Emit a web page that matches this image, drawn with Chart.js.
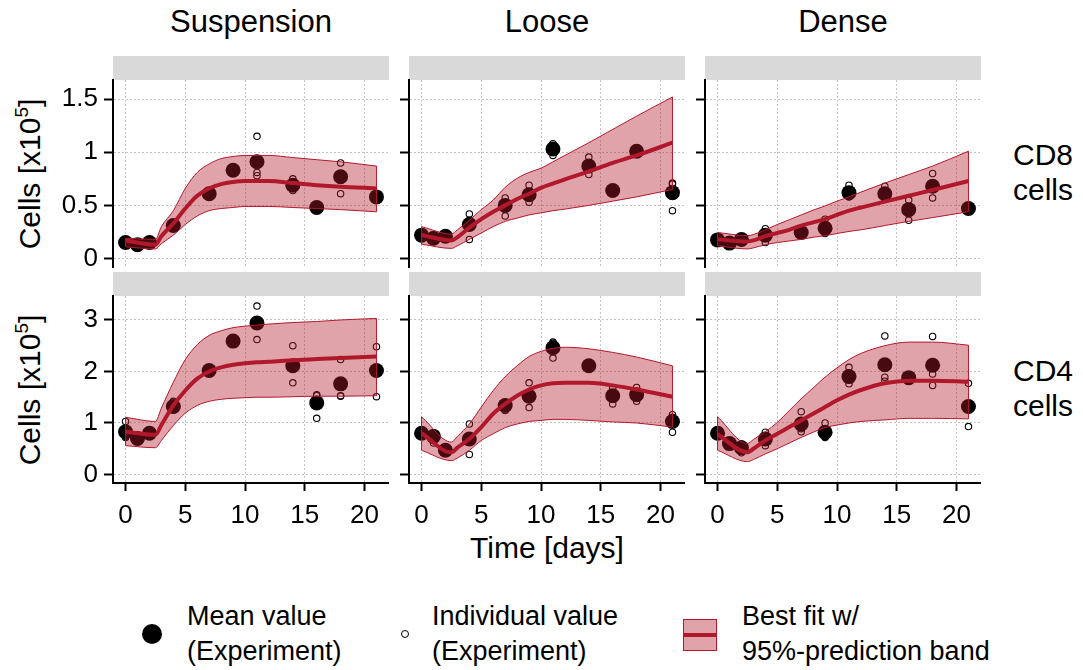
<!DOCTYPE html>
<html>
<head>
<meta charset="utf-8">
<script src="https://cdn.jsdelivr.net/npm/chart.js@4.4.0/dist/chart.umd.min.js"></script>
<style>
  html, body { margin: 0; padding: 0; background: #fff; }
  #fig { position: relative; width: 1083px; height: 670px; overflow: hidden;
         font-family: "Liberation Sans", Arial, Helvetica, sans-serif; color: #000; }
  #fig canvas { position: absolute; }
  .strip { position: absolute; background: #d9d9d9; }
  .coltitle { position: absolute; text-align: center; font-size: 31px; line-height: 30px; white-space: nowrap; }
  .rowlabel { position: absolute; font-size: 30px; line-height: 35px; white-space: nowrap; }
  .ytitle { position: absolute; width: 240px; height: 36px; line-height: 36px; text-align: center;
            font-size: 30px; white-space: nowrap; transform: rotate(-90deg); transform-origin: 50% 50%; }
  .ytitle sup { font-size: 19px; vertical-align: 0; position: relative; top: -12px; }
  .xtitle { position: absolute; width: 300px; text-align: center; font-size: 30px; line-height: 30px; }
  .legtext { position: absolute; font-size: 27px; line-height: 35px; white-space: nowrap; }
  .dot { position: absolute; border-radius: 50%; box-sizing: border-box; }
</style>
</head>
<body>
<div id="fig"></div>
<script>
// ---- time grid shared by every panel ----
const timePoints = [0, 1, 2, 4, 7, 9, 11, 14, 16, 18, 21];
const fitTimes   = [0, 2.5, 3, 4, 5, 6, 7, 8, 9, 10, 11, 12, 14, 16, 18, 21];

// ---- axis ticks ----
const xTickValues = [0, 5, 10, 15, 20];
const yTicksCD8 = [0, 0.5, 1, 1.5];
const yTicksCD4 = [0, 1, 2, 3];

// ---- facet labels ----
const conditions = ['Suspension', 'Loose', 'Dense'];
const cellTypes = ['CD8', 'CD4'];

// ---- CD8, Suspension ----
const meanSuspensionCD8 = [0.15, 0.13, 0.15, 0.31, 0.61, 0.83, 0.91, 0.69, 0.48, 0.77, 0.58];
const indivSuspensionCD8 = [[0.15, 0.14, 0.16], [0.12, 0.13, 0.14], [0.15, 0.16, 0.14], [0.30, 0.31, 0.32],
  [0.60, 0.61, 0.62], [0.82, 0.83, 0.84], [1.15, 0.81, 0.78], [0.75, 0.68, 0.64], [0.48, 0.47, 0.49],
  [0.90, 0.80, 0.61], [0.58, 0.57, 0.59]];
const fitSuspensionCD8   = [0.17, 0.13, 0.21, 0.33, 0.47, 0.59, 0.66, 0.70, 0.72, 0.73, 0.73, 0.73, 0.71, 0.69, 0.675, 0.66];
const upperSuspensionCD8 = [0.19, 0.18, 0.30, 0.45, 0.66, 0.81, 0.89, 0.94, 0.96, 0.97, 0.97, 0.97, 0.95, 0.93, 0.91, 0.87];
const lowerSuspensionCD8 = [0.11, 0.09, 0.14, 0.22, 0.32, 0.40, 0.45, 0.47, 0.48, 0.49, 0.49, 0.49, 0.48, 0.47, 0.46, 0.44];

// ---- CD8, Loose ----
const meanLooseCD8 = [0.22, 0.19, 0.21, 0.32, 0.50, 0.60, 1.03, 0.87, 0.64, 1.01, 0.62];
const indivLooseCD8 = [[0.22, 0.21, 0.23], [0.18, 0.19, 0.20], [0.21, 0.20, 0.22], [0.42, 0.18, 0.36],
  [0.57, 0.40, 0.53], [0.69, 0.53, 0.58], [1.08, 1.04, 0.97], [0.955, 0.79, 0.86], [0.64, 0.63, 0.65],
  [1.01, 1.00, 1.02], [0.71, 0.45, 0.70]];
const fitLooseCD8   = [0.22, 0.17, 0.20, 0.29, 0.37, 0.44, 0.50, 0.56, 0.61, 0.665, 0.705, 0.745, 0.82, 0.90, 0.97, 1.09];
const upperLooseCD8 = [0.30, 0.23, 0.27, 0.36, 0.46, 0.55, 0.67, 0.755, 0.81, 0.85, 0.91, 0.97, 1.09, 1.215, 1.34, 1.52];
const lowerLooseCD8 = [0.135, 0.095, 0.12, 0.18, 0.24, 0.30, 0.35, 0.38, 0.41, 0.43, 0.45, 0.465, 0.50, 0.54, 0.58, 0.65];

// ---- CD8, Dense ----
const meanDenseCD8 = [0.175, 0.145, 0.18, 0.22, 0.245, 0.285, 0.62, 0.61, 0.46, 0.68, 0.47];
const indivDenseCD8 = [[0.17, 0.18, 0.175], [0.14, 0.15, 0.145], [0.18, 0.17, 0.19], [0.28, 0.15, 0.23],
  [0.24, 0.25, 0.245], [0.37, 0.25, 0.235], [0.69, 0.58, 0.59], [0.68, 0.58, 0.57], [0.55, 0.36, 0.47],
  [0.80, 0.57, 0.67], [0.47, 0.46, 0.48]];
const fitDenseCD8   = [0.18, 0.16, 0.17, 0.21, 0.24, 0.27, 0.31, 0.34, 0.37, 0.41, 0.45, 0.48, 0.535, 0.59, 0.645, 0.73];
const upperDenseCD8 = [0.245, 0.215, 0.225, 0.27, 0.32, 0.365, 0.41, 0.455, 0.495, 0.54, 0.58, 0.625, 0.71, 0.79, 0.87, 1.01];
const lowerDenseCD8 = [0.12, 0.09, 0.10, 0.13, 0.15, 0.165, 0.18, 0.20, 0.215, 0.235, 0.255, 0.27, 0.31, 0.35, 0.385, 0.44];

// ---- CD4, Suspension ----
const meanSuspensionCD4 = [0.83, 0.70, 0.80, 1.32, 2.02, 2.59, 2.94, 2.11, 1.39, 1.76, 2.02];
const indivSuspensionCD4 = [[1.03, 0.72, 0.74], [0.69, 0.70, 0.71], [0.80, 0.79, 0.81], [1.42, 1.25, 1.29],
  [2.02, 2.00, 2.04], [2.59, 2.58, 2.60], [3.27, 2.62, 2.93], [2.50, 1.78, 2.05], [1.55, 1.09, 1.53],
  [2.23, 1.52, 1.53], [2.48, 1.51, 2.07]];
const fitSuspensionCD4   = [0.83, 0.77, 0.96, 1.34, 1.63, 1.86, 2.00, 2.08, 2.13, 2.16, 2.18, 2.19, 2.22, 2.24, 2.26, 2.29];
const upperSuspensionCD4 = [1.11, 1.03, 1.29, 1.79, 2.23, 2.52, 2.70, 2.79, 2.85, 2.88, 2.90, 2.92, 2.95, 2.97, 3.00, 3.03];
const lowerSuspensionCD4 = [0.56, 0.52, 0.66, 0.95, 1.19, 1.34, 1.42, 1.46, 1.48, 1.49, 1.50, 1.50, 1.51, 1.52, 1.52, 1.53];

// ---- CD4, Loose ----
const meanLooseCD4 = [0.80, 0.74, 0.47, 0.69, 1.34, 1.52, 2.46, 2.11, 1.53, 1.55, 1.03];
const indivLooseCD4 = [[0.80, 0.79, 0.81], [0.61, 0.80, 0.81], [0.47, 0.46, 0.48], [0.98, 0.39, 0.70],
  [1.24, 1.40, 1.38], [1.78, 1.30, 1.48], [2.57, 2.26, 2.55], [2.11, 2.10, 2.12], [1.68, 1.37, 1.54],
  [1.69, 1.42, 1.54], [1.16, 0.82, 1.11]];
const fitLooseCD4   = [0.80, 0.43, 0.52, 0.69, 0.92, 1.18, 1.37, 1.53, 1.65, 1.73, 1.77, 1.78, 1.78, 1.73, 1.65, 1.51];
const upperLooseCD4 = [1.12, 0.63, 0.74, 0.98, 1.31, 1.63, 1.90, 2.11, 2.29, 2.39, 2.45, 2.47, 2.44, 2.37, 2.28, 2.11];
const lowerLooseCD4 = [0.47, 0.27, 0.32, 0.47, 0.66, 0.79, 0.91, 0.98, 1.03, 1.05, 1.07, 1.07, 1.05, 1.02, 1.00, 0.92];

// ---- CD4, Dense ----
const meanDenseCD4 = [0.80, 0.60, 0.52, 0.69, 0.98, 0.82, 1.90, 2.13, 1.88, 2.12, 1.32];
const indivDenseCD4 = [[0.80, 0.79, 0.81], [0.55, 0.60, 0.65], [0.42, 0.55, 0.59], [0.82, 0.56, 0.69],
  [1.22, 0.83, 0.89], [1.00, 0.74, 0.72], [2.08, 1.76, 1.86], [2.69, 1.89, 1.81], [1.88, 1.87, 1.89],
  [2.68, 1.95, 1.73], [1.77, 0.93, 1.26]];
const fitDenseCD4   = [0.78, 0.43, 0.50, 0.66, 0.79, 0.92, 1.05, 1.18, 1.31, 1.44, 1.55, 1.64, 1.77, 1.82, 1.82, 1.80];
const upperDenseCD4 = [1.12, 0.60, 0.68, 0.83, 1.01, 1.24, 1.47, 1.68, 1.89, 2.07, 2.23, 2.35, 2.50, 2.57, 2.57, 2.51];
const lowerDenseCD4 = [0.47, 0.25, 0.29, 0.40, 0.50, 0.61, 0.72, 0.82, 0.91, 0.96, 1.00, 1.03, 1.06, 1.09, 1.09, 1.08];

// ---- styling ----
const FONT = '"Liberation Sans", Arial, Helvetica, sans-serif';
const RED = 'rgb(178,24,43)';
const BAND = 'rgba(178,24,43,0.40)';
const GRID = '#c4c4c4';

// ---- facet geometry (pixels) ----
const colLeft = [113, 409, 705];
const rowTop = [80, 296];
const PANEL_W = 276, PANEL_H = 187;
const PAD_T = 30;                 // room for the top tick label
const X_AXIS_H = 50;              // bottom row x axis (ticks + labels)
const X_RANGE = [-1.05, 22.05];
const Y_RANGE = [[-0.08, 1.68], [-0.165, 3.465]];
const yTickSets = [yTicksCD8, yTicksCD4];

const panels = [
  { row: 0, col: 0, mean: meanSuspensionCD8, indiv: indivSuspensionCD8, fit: fitSuspensionCD8, upper: upperSuspensionCD8, lower: lowerSuspensionCD8 },
  { row: 0, col: 1, mean: meanLooseCD8, indiv: indivLooseCD8, fit: fitLooseCD8, upper: upperLooseCD8, lower: lowerLooseCD8 },
  { row: 0, col: 2, mean: meanDenseCD8, indiv: indivDenseCD8, fit: fitDenseCD8, upper: upperDenseCD8, lower: lowerDenseCD8 },
  { row: 1, col: 0, mean: meanSuspensionCD4, indiv: indivSuspensionCD4, fit: fitSuspensionCD4, upper: upperSuspensionCD4, lower: lowerSuspensionCD4 },
  { row: 1, col: 1, mean: meanLooseCD4, indiv: indivLooseCD4, fit: fitLooseCD4, upper: upperLooseCD4, lower: lowerLooseCD4 },
  { row: 1, col: 2, mean: meanDenseCD4, indiv: indivDenseCD4, fit: fitDenseCD4, upper: upperDenseCD4, lower: lowerDenseCD4 }
];

const fig = document.getElementById('fig');

function addDiv(cls, style, html) {
  const d = document.createElement('div');
  d.className = cls;
  Object.assign(d.style, style);
  d.innerHTML = html;
  fig.appendChild(d);
  return d;
}

// strips and facet titles
for (let r = 0; r < 2; r++) {
  for (let c = 0; c < 3; c++) {
    addDiv('strip', { left: colLeft[c] + 'px', top: (rowTop[r] - 24) + 'px', width: PANEL_W + 'px', height: '24px' }, '');
  }
}
conditions.forEach((name, c) => {
  addDiv('coltitle', { left: colLeft[c] + 'px', top: '7px', width: PANEL_W + 'px' }, name);
});
cellTypes.forEach((name, r) => {
  const cy = rowTop[r] + PANEL_H / 2;
  addDiv('rowlabel', { left: '1013px', top: (cy - 37) + 'px' }, name + '<br>cells');
  addDiv('ytitle', { left: (30 - 120) + 'px', top: (cy - 18) + 'px' }, 'Cells [x10<sup>5</sup>]');
});
addDiv('xtitle', { left: (colLeft[1] + PANEL_W / 2 - 150) + 'px', top: '533px' }, 'Time [days]');

// legend
addDiv('dot', { left: '142px', top: '624px', width: '20px', height: '20px', background: '#000' }, '');
addDiv('legtext', { left: '187px', top: '599px' }, 'Mean value<br>(Experiment)');
addDiv('dot', { left: '401px', top: '630px', width: '8px', height: '8px', border: '1.2px solid #000' }, '');
addDiv('legtext', { left: '432px', top: '599px' }, 'Individual value<br>(Experiment)');
addDiv('dot', { left: '683px', top: '619px', width: '34px', height: '32px', borderRadius: '0', background: BAND, border: '1px solid ' + RED }, '');
addDiv('dot', { left: '683px', top: '633px', width: '34px', height: '4px', borderRadius: '0', background: RED }, '');
addDiv('legtext', { left: '742px', top: '599px' }, 'Best fit w/<br>95%-prediction band');

Chart.defaults.font.family = FONT;
Chart.defaults.color = '#000';

function pts(xs, ys) { return xs.map((x, i) => ({ x: x, y: ys[i] })); }

function buildPanel(p) {
  const isBottom = p.row === 1;
  const showYLabels = p.col === 0;
  const axW = showYLabels ? 100 : 14;
  const canvas = document.createElement('canvas');
  const w = axW + PANEL_W;
  const h = PAD_T + PANEL_H + (isBottom ? X_AXIS_H : 30);
  canvas.width = w;
  canvas.height = h;
  canvas.style.left = (colLeft[p.col] - axW) + 'px';
  canvas.style.top = (rowTop[p.row] - PAD_T) + 'px';
  fig.appendChild(canvas);

  const indivPts = [];
  p.indiv.forEach((vals, i) => vals.forEach(v => indivPts.push({ x: timePoints[i], y: v })));
  const last = fitTimes.length - 1;

  const curve = { pointRadius: 0, fill: false, cubicInterpolationMode: 'monotone', borderColor: RED };

  new Chart(canvas, {
    type: 'line',
    data: {
      datasets: [
        Object.assign({ label: 'Best fit', data: pts(fitTimes, p.fit), borderWidth: 4, order: 0 }, curve),
        Object.assign({ label: 'lower', data: pts(fitTimes, p.lower), borderWidth: 1, order: 1 }, curve),
        Object.assign({}, curve, { label: 'upper', data: pts(fitTimes, p.upper), borderWidth: 1, order: 1,
          fill: '-1', backgroundColor: BAND }),
        { label: 'band start', data: [{ x: fitTimes[0], y: p.lower[0] }, { x: fitTimes[0], y: p.upper[0] }],
          borderColor: RED, borderWidth: 1, pointRadius: 0, order: 1 },
        { label: 'band end', data: [{ x: fitTimes[last], y: p.lower[last] }, { x: fitTimes[last], y: p.upper[last] }],
          borderColor: RED, borderWidth: 1, pointRadius: 0, order: 1 },
        { label: 'Individual value', data: indivPts, showLine: false, pointRadius: 3.2,
          pointBorderWidth: 1.1, pointBorderColor: '#000', pointBackgroundColor: 'rgba(0,0,0,0)', order: 2 },
        { label: 'Mean value', data: pts(timePoints, p.mean), showLine: false, pointRadius: 7.5,
          pointBorderWidth: 0, pointBackgroundColor: '#000', order: 3 }
      ]
    },
    options: {
      responsive: false,
      animation: false,
      events: [],
      layout: { autoPadding: false, padding: { top: PAD_T, bottom: isBottom ? 0 : 30, left: 0, right: 0 } },
      plugins: { legend: { display: false }, tooltip: { enabled: false } },
      scales: {
        x: {
          type: 'linear',
          min: X_RANGE[0], max: X_RANGE[1],
          afterBuildTicks: s => { s.ticks = xTickValues.map(v => ({ value: v })); },
          afterFit: s => { s.height = isBottom ? X_AXIS_H : 0; },
          grid: { color: GRID, lineWidth: 1, drawTicks: isBottom, tickLength: 8, tickColor: '#000', tickWidth: 2 },
          border: { display: isBottom, color: '#000', width: 2, dash: [2, 2] },
          ticks: { display: isBottom, font: { size: 26 }, color: '#000', padding: 9, maxRotation: 0, autoSkip: false,
                   callback: v => String(v) }
        },
        y: {
          type: 'linear',
          min: Y_RANGE[p.row][0], max: Y_RANGE[p.row][1],
          afterBuildTicks: s => { s.ticks = yTickSets[p.row].map(v => ({ value: v })); },
          afterFit: s => { s.width = axW; },
          grid: { color: GRID, lineWidth: 1, drawTicks: true, tickLength: 9, tickColor: '#000', tickWidth: 2 },
          border: { display: true, color: '#000', width: 2, dash: [2, 2] },
          ticks: { display: showYLabels, font: { size: 26 }, color: '#000', padding: 6,
                   callback: v => String(v) }
        }
      }
    }
  });
}

panels.forEach(buildPanel);
</script>
</body>
</html>
